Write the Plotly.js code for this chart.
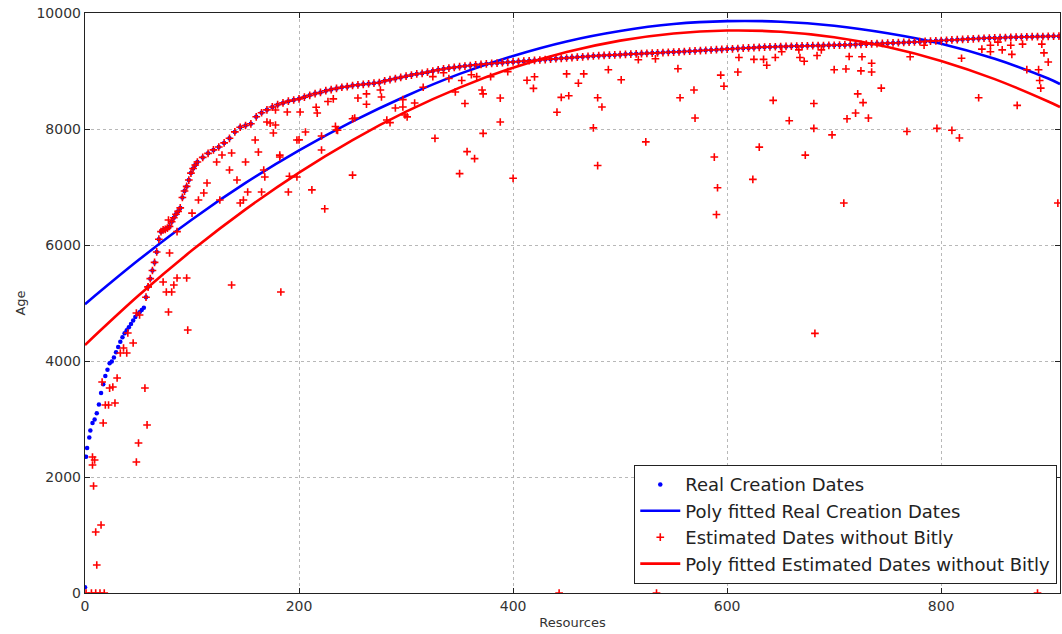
<!DOCTYPE html>
<html>
<head>
<meta charset="utf-8">
<script src="https://cdn.plot.ly/plotly-3.0.1.min.js"></script>
<style>html,body{margin:0;padding:0;background:#fff;}#chart{width:1062px;height:634px;}</style>
</head>
<body>
<div id="chart"></div>
<script>
// Real creation dates (sorted curve)
const realX = [0,1,2,4,5,7,9,11,13,15,17,19,21,23,25,27,29,31,33,35,37,39,41,43,45,47,49,51,53,55,57,59,61,63,65,67,69,71,73,75,77,79,81,83,85,87,89,91,93,95,97,99,101,103,105,
110,115,120,125,130,135,140,145,150,155,160,165,170,175,180,185,190,195,200,205,210,215,220,225,230,235,240,245,250,255,260,265,270,275,280,285,290,295,300,305,310,315,320,325,330,335,340,345,350,355,360,365,370,375,380,385,390,395,
400,405,410,415,420,425,430,435,440,445,450,455,460,465,470,475,480,485,490,495,500,505,510,515,520,525,530,535,540,545,550,555,560,565,570,575,580,585,590,595,600,605,610,615,620,625,630,635,640,645,650,655,660,665,670,675,680,685,690,695,700,705,710,715,720,725,730,735,740,745,750,755,760,765,770,775,780,785,790,795,800,805,810,815,820,825,830,835,840,845,850,855,860,865,870,875,880,885,890,895,900,905,910];
const realY = [100,2350,2500,2680,2800,2930,2990,3100,3250,3450,3600,3740,3850,3960,3990,4060,4150,4240,4330,4410,4480,4530,4580,4640,4700,4760,4810,4840,4880,4920,5100,5280,5420,5560,5700,5880,6100,6230,6260,6270,6290,6320,6400,6470,6530,6580,6640,6820,6930,7010,7120,7240,7320,7380,7430,
7510,7580,7640,7690,7760,7840,7950,8030,8060,8090,8210,8280,8330,8380,8420,8450,8480,8500,8520,8550,8580,8610,8630,8660,8680,8700,8720,8730,8750,8760,8770,8780,8790,8800,8830,8850,8870,8890,8910,8930,8950,8960,8980,9000,9020,9035,9050,9062,9074,9085,9095,9105,9114,9122,9130,9137,9144,9150,
9156,9163,9170,9177,9183,9190,9197,9204,9211,9218,9224,9231,9238,9245,9252,9259,9265,9269,9273,9278,9282,9287,9291,9296,9300,9304,9309,9313,9318,9322,9327,9331,9336,9341,9346,9352,9357,9362,9367,9372,9378,9383,9388,9393,9398,9403,9408,9412,9415,9418,9421,9424,9427,9430,9432,9434,9436,9438,9440,9442,9444,9447,9450,9453,9456,9460,9464,9468,9472,9476,9480,9484,9488,9492,9496,9500,9505,9510,9515,9520,9525,9530,9535,9540,9545,9550,9555,9560,9565,9568,9571,9574,9577,9580,9583,9586,9589,9591,9593,9595,9597,9599,9600];

// Poly fitted real creation dates
const fitRealX = [0,50,100,150,200,250,300,350,400,450,500,550,600,650,700,750,800,850,900,911];
const fitRealY = [4980,5740,6440,7070,7630,8130,8570,8950,9260,9510,9690,9810,9860,9850,9780,9650,9470,9210,8870,8775];

// Estimated dates without Bitly: points on the main band
const estBandX = [57,59,61,63,65,67,69,71,73,75,77,79,81,83,85,87,89,91,93,95,97,99,101,103,105,
110,115,120,125,130,135,140,145,150,155,160,165,170,175,180,185,190,195,200,205,210,215,220,225,230,235,240,245,250,255,260,265,270,275,280,285,290,295,300,305,310,315,320,325,330,335,340,345,350,355,360,365,370,375,380,385,390,395,
400,405,410,415,420,425,430,435,440,445,450,455,460,465,470,475,480,485,490,495,500,505,510,515,520,525,530,535,540,545,550,555,560,565,570,575,580,585,590,595,600,605,610,615,620,625,630,635,640,645,650,655,660,665,670,675,680,685,690,695,700,705,710,715,720,725,730,735,740,745,750,755,760,765,770,775,780,785,790,795,800,805,810,815,820,825,830,835,840,845,850,855,860,865,870,875,880,885,890,895,900,905,910];
const estBandY = [5100,5280,5420,5560,5700,5880,6100,6230,6260,6270,6290,6320,6400,6470,6530,6580,6640,6820,6930,7010,7120,7240,7320,7380,7430,
7510,7580,7640,7690,7760,7840,7950,8030,8060,8090,8210,8280,8330,8380,8420,8450,8480,8500,8520,8550,8580,8610,8630,8660,8680,8700,8720,8730,8750,8760,8770,8780,8790,8800,8830,8850,8870,8890,8910,8930,8950,8960,8980,9000,9020,9035,9050,9062,9074,9085,9095,9105,9114,9122,9130,9137,9144,9150,
9156,9163,9170,9177,9183,9190,9197,9204,9211,9218,9224,9231,9238,9245,9252,9259,9265,9269,9273,9278,9282,9287,9291,9296,9300,9304,9309,9313,9318,9322,9327,9331,9336,9341,9346,9352,9357,9362,9367,9372,9378,9383,9388,9393,9398,9403,9408,9412,9415,9418,9421,9424,9427,9430,9432,9434,9436,9438,9440,9442,9444,9447,9450,9453,9456,9460,9464,9468,9472,9476,9480,9484,9488,9492,9496,9500,9505,9510,9515,9520,9525,9530,9535,9540,9545,9550,9555,9560,9565,9568,9571,9574,9577,9580,9583,9586,9589,9591,9593,9595,9597,9599,9600];

// Estimated dates without Bitly: points off the band
const estOffX = [1,6,10,14,18,7,9,7,8,10,15,11,17,19,22,28,16,23,26,30,33,36,39,40,45,48,51,56,58,50,48,59,73,76,81,78,83,86,79,95,96,137,
78,86,100,106,111,114,123,128,126,135,137,142,145,148,150,152,159,162,165,167,168,170,173,178,178,176,182,182,189,190,198,198,183,
191,201,206,200,212,216,217,221,221,224,227,232,234,235,236,250,250,252,255,263,263,276,277,282,285,290,297,297,299,301,308,316,325,327,
335,340,346,352,350,355,357,364,361,366,371,372,372,379,388,388,395,400,413,419,420,441,445,450,452,461,466,475,479,479,483,
443,489,501,517,533,524,554,556,569,570,588,591,590,594,597,611,610,625,624,630,534,
634,637,645,651,643,658,667,668,672,681,681,673,682,684,688,698,700,709,711,712,714,720,722,725,726,727,732,735,735,744,768,771,
784,796,810,817,819,835,838,846,846,853,857,865,866,871,876,880,891,892,893,894,896,900,909,890];
const estOffY = [0,0,0,0,0,2345,2293,2207,1845,1052,1172,483,2931,3241,3241,3276,3638,3534,3552,3707,4138,4224,4138,4483,4310,4828,4793,3534,2897,2586,2259,5276,5362,5190,5190,4845,5310,5431,5862,5431,4534,5310,
6430,6230,6550,6776,6897,7069,7431,7552,6776,7293,7586,7121,6724,6776,7431,6914,7810,7603,6914,7293,7172,8121,8103,8328,8069,7931,7517,7549,8293,6914,7810,7172,5190,
7185,8293,7948,7813,6950,8374,8275,7879,7638,6624,8473,8520,8044,7983,7978,8176,7205,8190,8534,8427,8605,8672,8552,8155,8110,8362,8506,8379,8241,8209,8448,8720,8903,7840,
8969,8870,8639,8837,7230,8440,7610,7490,8936,8903,8672,8606,7925,8903,8534,8121,8990,7150,8840,8700,8900,8290,8545,8950,8573,8790,8950,8020,8539,7370,8379,
0,9022,8848,9195,9210,7778,9040,8539,8672,8189,7516,6987,6525,8929,8738,9233,8982,9200,7132,7688,0,
9200,9100,9233,9332,8493,8143,9365,9233,9167,8440,8011,7549,4477,9266,9365,7899,9022,6723,9035,8176,9250,8275,8605,9002,9246,8454,8189,9134,8982,8705,7958,9246,
9444,8011,7978,7846,9220,8539,9378,9444,9332,9497,9365,9444,9286,8407,9464,9022,9022,8837,8705,9464,9312,9154,6723,0];

// Poly fitted estimated dates
const fitEstX = [0,50,100,150,200,250,300,350,400,450,500,550,600,650,700,750,800,850,900,911];
const fitEstY = [4276,5128,5908,6615,7249,7810,8299,8714,9057,9327,9524,9648,9698,9677,9582,9414,9174,8860,8474,8379];

const xTicks = [0, 200, 400, 600, 800];
const yTicks = [0, 2000, 4000, 6000, 8000, 10000];
const yTickText = ['0', '2000', '4000', '6000', '8000', '10000'];

const seriesNames = ['Real Creation Dates','Poly fitted Real Creation Dates','Estimated Dates without Bitly','Poly fitted Estimated Dates without Bitly'];

const FONT = 'DejaVu Sans, Verdana, sans-serif';

const traces = [
  {x: realX, y: realY, type: 'scatter', mode: 'markers', name: seriesNames[0], legendgroup: 'a',
   marker: {symbol: 'circle', size: 4.5, color: '#0000ff', line: {width: 0}}},
  {x: fitRealX, y: fitRealY, type: 'scatter', mode: 'lines', name: seriesNames[1], legendgroup: 'b',
   line: {color: '#0000ff', width: 2.6, shape: 'spline'}},
  {x: estBandX.concat(estOffX), y: estBandY.concat(estOffY), type: 'scatter', mode: 'markers', name: seriesNames[2], legendgroup: 'c',
   marker: {symbol: 'cross-thin', size: 5.5, color: '#ff0000', line: {width: 1.6, color: '#ff0000'}}},
  {x: fitEstX, y: fitEstY, type: 'scatter', mode: 'lines', name: seriesNames[3], legendgroup: 'd',
   line: {color: '#ff0000', width: 2.6, shape: 'spline'}}
];

const axisCommon = {
  showline: true, mirror: 'ticks', linecolor: '#222', linewidth: 1.2,
  ticks: 'inside', ticklen: 5, tickcolor: '#222',
  showgrid: true, gridcolor: '#b8b8b8', griddash: 'dot', gridwidth: 1,
  zeroline: false,
  tickfont: {family: FONT, size: 14, color: '#333'}
};

const layout = {
  width: 1062, height: 634,
  margin: {l: 85, r: 2, t: 13, b: 41},
  paper_bgcolor: '#fff', plot_bgcolor: '#fff',
  showlegend: true,
  xaxis: Object.assign({}, axisCommon, {
    range: [0, 911], tickvals: xTicks,
    title: {text: 'Resources', font: {family: FONT, size: 13, color: '#333'}, standoff: 4}
  }),
  yaxis: Object.assign({}, axisCommon, {
    range: [0, 10000], tickvals: yTicks, ticktext: yTickText,
    title: {text: 'Age', font: {family: FONT, size: 13, color: '#333'}, standoff: 8}
  }),
  legend: {
    x: 0.997, xanchor: 'right', y: 0.0155, yanchor: 'bottom',
    bgcolor: '#fff', bordercolor: '#222', borderwidth: 1.2,
    font: {family: FONT, size: 18, color: '#222'},
    tracegroupgap: 0, itemwidth: 40
  }
};

Plotly.newPlot('chart', traces, layout, {displayModeBar: false, staticPlot: true});
</script>
</body>
</html>
